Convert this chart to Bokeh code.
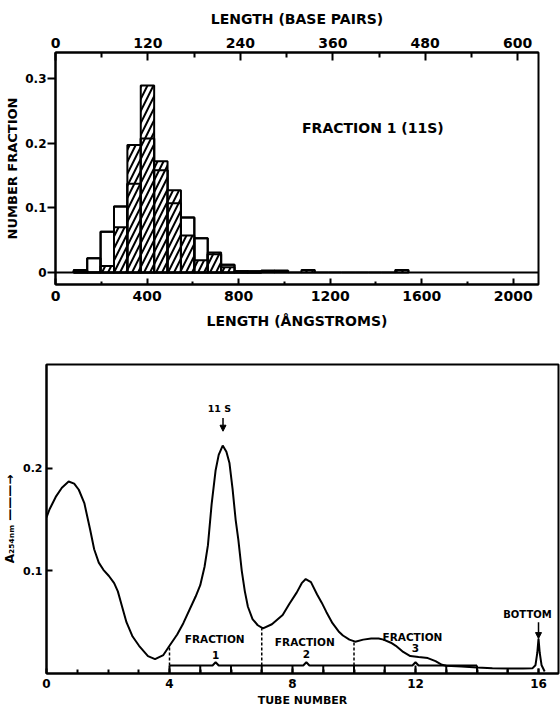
from bokeh.plotting import figure
from bokeh.models import (Range1d, LinearAxis, FixedTicker, Span, Label, Arrow,
                          NormalHead, ColumnDataSource)
from bokeh.core.properties import value
from bokeh.embed import file_html
from bokeh.resources import INLINE

FONT = "DejaVu Sans"

# ---------------- top panel: length histogram ----------------
bin_start_A = 80.0          # left edge of first bin (Angstroms)
bin_width_A = 58.5          # bin width (Angstroms)
open_bars = [0.004, 0.022, 0.063, 0.102, 0.137, 0.207, 0.158, 0.107, 0.085,
             0.053, 0.028, 0.012, 0.002, 0.002]
hatched_bars = [0.002, 0.0, 0.010, 0.070, 0.197, 0.289, 0.172, 0.127, 0.057,
                0.019, 0.031, 0.008, 0.002, 0.0, 0.003, 0.003, 0.0, 0.004,
                0.0, 0.0, 0.0, 0.0, 0.0, 0.0, 0.004]
A_ticks = [0, 400, 800, 1200, 1600, 2000]
A_minor = [200, 600, 1000, 1400, 1800]
bp_ticks = [0, 120, 240, 360, 480, 600]
bp_minor = [60, 180, 300, 420, 540]
frac_ticks = [0, 0.1, 0.2, 0.3]
A_per_bp = 3.365
A_max = 2110

# ---------------- bottom panel: sedimentation profile ----------------
tube = [0.0, 0.1, 0.3, 0.5, 0.72, 0.9, 1.05, 1.23, 1.42, 1.55, 1.7, 1.85, 2.03,
        2.2, 2.32, 2.45, 2.6, 2.8, 3.01, 3.3, 3.53, 3.8, 4.0, 4.25, 4.45, 4.85,
        5.0, 5.14, 5.25, 5.37, 5.5, 5.6, 5.73, 5.85, 5.95, 6.05, 6.15, 6.24,
        6.35, 6.45, 6.55, 6.7, 6.87, 7.04, 7.33, 7.68, 7.9, 8.14, 8.3, 8.43,
        8.6, 8.8, 8.95, 9.1, 9.3, 9.5, 9.64, 9.85, 10.04, 10.3, 10.56, 10.8,
        10.96, 11.2, 11.36, 11.6, 11.83, 12.1, 12.4, 12.65, 12.86, 13.0, 13.5,
        14.0, 14.5, 15.0, 15.5, 15.8, 15.9, 15.96, 16.0, 16.04, 16.1, 16.2]
a254 = [0.152, 0.160, 0.172, 0.181, 0.187, 0.185, 0.179, 0.166, 0.140, 0.121,
        0.108, 0.101, 0.095, 0.088, 0.080, 0.066, 0.050, 0.036, 0.027, 0.017,
        0.014, 0.018, 0.027, 0.038, 0.049, 0.075, 0.086, 0.104, 0.125, 0.165,
        0.198, 0.213, 0.222, 0.216, 0.205, 0.180, 0.150, 0.130, 0.100, 0.080,
        0.065, 0.053, 0.047, 0.044, 0.048, 0.057, 0.068, 0.079, 0.088, 0.092,
        0.089, 0.077, 0.069, 0.060, 0.049, 0.041, 0.037, 0.033, 0.031, 0.033,
        0.034, 0.034, 0.033, 0.030, 0.027, 0.021, 0.017, 0.016, 0.015, 0.012,
        0.0085, 0.0075, 0.0068, 0.0058, 0.005, 0.0048, 0.0048, 0.005, 0.008,
        0.020, 0.034, 0.020, 0.008, 0.002]
base_x = [4.0, 5.4, 5.5, 5.6, 8.35, 8.45, 8.55, 11.9, 12.0, 12.1, 14.0]
base_y = [0.0078, 0.0078, 0.011, 0.0078, 0.0078, 0.011, 0.0078, 0.0078, 0.011,
          0.0078, 0.0078]
marker_tubes = [4, 5, 6, 7, 8, 9, 10, 11, 12, 13, 14, 15, 16]
marker_tops = [0.0078] * 11 + [0.0048, 0.0048]
cut_tubes = [4, 7, 10]
cut_tops = [0.027, 0.044, 0.031]
frac_names = ["FRACTION", "FRACTION", "FRACTION"]
frac_nums = ["1", "2", "3"]
frac_x = [5.47, 8.4, 11.9]
frac_num_x = [5.5, 8.45, 12.0]
frac_name_y = [0.034, 0.031, 0.036]
frac_num_y = [0.018, 0.019, 0.025]
tube_ticks = [0, 4, 8, 12, 16]
tube_minor = [1, 2, 3, 5, 6, 7, 9, 10, 11, 13, 14, 15]
abs_ticks = [0.1, 0.2]

assert len(tube) == len(a254)


def style_axis(ax, label_size="14px"):
    ax.axis_line_color = "black"
    ax.axis_line_width = 2
    ax.major_tick_line_color = "black"
    ax.major_tick_line_width = 2
    ax.minor_tick_line_color = "black"
    ax.minor_tick_line_width = 2
    ax.major_label_text_font = FONT
    ax.major_label_text_font_style = "bold"
    ax.major_label_text_font_size = label_size
    ax.major_label_text_color = "black"
    ax.axis_label_text_font = FONT
    ax.axis_label_text_font_style = "bold"
    ax.axis_label_text_color = "black"


# ================= top figure =================
top = figure(width=560, height=340, x_range=Range1d(0, A_max),
             y_range=Range1d(-0.0186, 0.34), output_backend="svg",
             toolbar_location=None, min_border_left=55, min_border_right=22,
             min_border_top=52, min_border_bottom=56,
             background_fill_color="white", border_fill_color="white")
top.grid.visible = False
top.outline_line_color = "black"
top.outline_line_width = 2
top.outline_line_alpha = 1

lefts_open = [bin_start_A + k * bin_width_A for k in range(len(open_bars))]
rights_open = [l + bin_width_A for l in lefts_open]
lefts_h = [bin_start_A + k * bin_width_A for k in range(len(hatched_bars))]
rights_h = [l + bin_width_A for l in lefts_h]
src_open = ColumnDataSource(dict(left=lefts_open, right=rights_open, top=open_bars))
src_h = ColumnDataSource(dict(left=lefts_h, right=rights_h, top=hatched_bars))

top.quad(left="left", right="right", bottom=0, top="top", source=src_open,
         fill_color="white", line_color="black", line_width=2)
top.quad(left="left", right="right", bottom=0, top="top", source=src_h,
         fill_color="white", line_color="black", line_width=2,
         hatch_pattern="/", hatch_scale=12, hatch_weight=2, hatch_color="black")
top.quad(left="left", right="right", bottom=0, top="top", source=src_open,
         fill_alpha=0, line_color="black", line_width=2)
top.add_layout(Span(location=0, dimension="width", line_color="black", line_width=2))

top.add_layout(Label(x=1077, y=0.224, text="FRACTION 1 (11S)", text_font=FONT,
                     text_font_style="bold", text_font_size="14px",
                     text_color="black",
                     text_baseline="middle", text_align="left"))

xa = top.xaxis[0]
style_axis(xa)
xa.ticker = FixedTicker(ticks=A_ticks, minor_ticks=A_minor)
xa.major_tick_in = 6
xa.major_tick_out = 0
xa.minor_tick_in = 3
xa.minor_tick_out = 0
xa.major_label_standoff = 6
xa.axis_label = "LENGTH (ÅNGSTROMS)"
xa.axis_label_text_font_size = "14px"
xa.axis_label_standoff = 9

top.extra_x_ranges = {"bp": Range1d(0, A_max / A_per_bp)}
bp_axis = LinearAxis(x_range_name="bp")
style_axis(bp_axis)
bp_axis.ticker = FixedTicker(ticks=bp_ticks, minor_ticks=bp_minor)
bp_axis.major_tick_in = 8
bp_axis.major_tick_out = 0
bp_axis.minor_tick_in = 5
bp_axis.minor_tick_out = 0
bp_axis.major_label_standoff = 5
bp_axis.axis_label = "LENGTH (BASE PAIRS)"
bp_axis.axis_label_text_font_size = "14px"
bp_axis.axis_label_standoff = 8
top.add_layout(bp_axis, "above")

ya = top.yaxis[0]
style_axis(ya, "12px")
ya.ticker = FixedTicker(ticks=frac_ticks, minor_ticks=[])
ya.major_label_overrides = {0: "0", 0.1: "0.1", 0.2: "0.2", 0.3: "0.3"}
ya.major_tick_in = 0
ya.major_tick_out = 8
ya.minor_tick_in = 0
ya.minor_tick_out = 0
ya.major_label_standoff = 1
ya.axis_label = "NUMBER FRACTION"
ya.axis_label_text_font_size = "13px"
ya.axis_label_standoff = 2

# ================= bottom figure =================
bot = figure(width=560, height=369, x_range=Range1d(0, 16.65),
             y_range=Range1d(0, 0.301), output_backend="svg",
             toolbar_location=None, min_border_left=45, min_border_right=2,
             min_border_top=24, min_border_bottom=35,
             background_fill_color="white", border_fill_color="white")
bot.grid.visible = False
bot.outline_line_color = "black"
bot.outline_line_width = 2

bot.line(tube, a254, line_color="black", line_width=2)
bot.line(base_x, base_y, line_color="black", line_width=2)
bot.segment(x0=marker_tubes, y0=[0] * len(marker_tubes), x1=marker_tubes,
            y1=marker_tops, line_color="black", line_width=2)
bot.segment(x0=cut_tubes, y0=[base_y[0]] * len(cut_tubes), x1=cut_tubes,
            y1=cut_tops, line_color="black", line_width=1.5, line_dash="3 2")

bot.text(x=frac_x, y=frac_name_y, text=frac_names, text_font=value(FONT),
         text_font_style="bold", text_font_size="10.5px", text_align="center",
         text_baseline="middle", text_color="black")
bot.text(x=frac_num_x, y=frac_num_y, text=frac_nums, text_font=value(FONT),
         text_font_style="bold", text_font_size="10.5px", text_align="center",
         text_baseline="middle", text_color="black")
bot.text(x=[5.62], y=[0.258], text=["11 S"], text_font=value(FONT),
         text_font_style="bold", text_font_size="9.5px", text_align="center",
         text_baseline="middle", text_color="black")
bot.text(x=[15.64], y=[0.057], text=["BOTTOM"], text_font=value(FONT),
         text_font_style="bold", text_font_size="10px", text_align="center",
         text_baseline="middle", text_color="black")

bot.add_layout(Arrow(end=NormalHead(size=6, fill_color="black", line_color="black"),
                     x_start=5.74, y_start=0.249, x_end=5.74, y_end=0.236,
                     line_width=1.5, line_color="black"))
bot.add_layout(Arrow(end=NormalHead(size=6, fill_color="black", line_color="black"),
                     x_start=16.0, y_start=0.050, x_end=16.0, y_end=0.034,
                     line_width=1.5, line_color="black"))

bx = bot.xaxis[0]
style_axis(bx, "12px")
bx.ticker = FixedTicker(ticks=tube_ticks, minor_ticks=tube_minor)
bx.major_tick_in = 5
bx.major_tick_out = 0
bx.minor_tick_in = 4
bx.minor_tick_out = 0
bx.major_label_standoff = 5
bx.axis_label = "TUBE NUMBER"
bx.axis_label_text_font_size = "11px"
bx.axis_label_standoff = 3

by = bot.yaxis[0]
style_axis(by, "11px")
by.ticker = FixedTicker(ticks=abs_ticks, minor_ticks=[])
by.major_label_overrides = {0.1: "0.1", 0.2: "0.2"}
by.major_tick_in = 6
by.major_tick_out = 0
by.minor_tick_in = 0
by.minor_tick_out = 0
by.major_label_standoff = 4
by.axis_label = "A₂₅₄ₙₘ ———→"
by.axis_label_text_font_size = "12px"
by.axis_label_standoff = 3

open("out.html", "w").write(file_html([top, bot], INLINE))
